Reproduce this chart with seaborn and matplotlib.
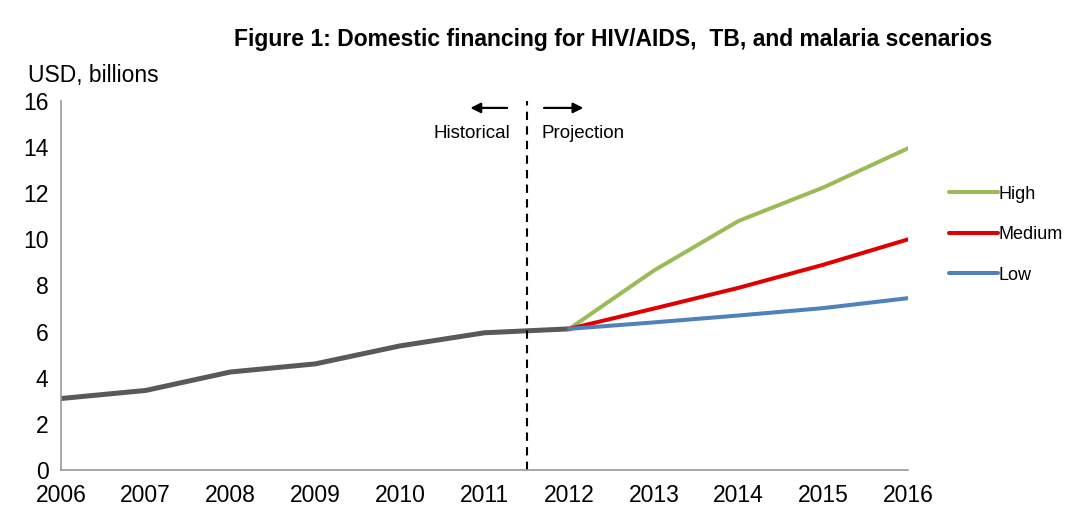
import numpy as np
import pandas as pd
import seaborn as sns
import matplotlib.pyplot as plt

# --- data ---
hist_years = [2006, 2007, 2008, 2009, 2010, 2011, 2012]
hist_values = [3.1, 3.45, 4.25, 4.6, 5.38, 5.95, 6.12]

proj_years = [2012, 2013, 2014, 2015, 2016]
high = [6.12, 8.65, 10.8, 12.25, 13.95]
medium = [6.12, 7.0, 7.9, 8.9, 10.0]
low = [6.12, 6.4, 6.7, 7.02, 7.45]

scenarios = ['High', 'Medium', 'Low']
colors = {'High': '#9BBB59', 'Medium': '#E00000', 'Low': '#4F81BD'}

df_hist = pd.DataFrame({'year': hist_years, 'value': hist_values})
df_proj = pd.concat([
    pd.DataFrame({'year': proj_years, 'value': v, 'scenario': s})
    for s, v in zip(scenarios, [high, medium, low])
])

# --- plot ---
sns.set_theme(style='white')
plt.rcParams['font.family'] = ['Liberation Sans', 'DejaVu Sans']
plt.rcParams['text.color'] = 'black'

fig = plt.figure(figsize=(10.67, 5.08), dpi=100)
ax = fig.add_axes([0.0572, 0.0748, 0.7938, 0.7264])

sns.lineplot(data=df_hist, x='year', y='value', color='#595959', lw=3.6, ax=ax,
             legend=False)
sns.lineplot(data=df_proj, x='year', y='value', hue='scenario', hue_order=scenarios,
             palette=colors, lw=2.9, ax=ax)

ax.axvline(2011.5, color='black', ls=(0, (4, 3)), lw=1.5)

ax.set_xlim(2006, 2016)
ax.set_ylim(0, 16)
ax.set_xticks(range(2006, 2017))
ax.set_yticks(range(0, 17, 2))
ax.tick_params(axis='both', labelsize=16.5, labelcolor='black', length=5, width=1,
               direction='out', color='#999999')
ax.tick_params(axis='x', direction='inout', length=8, pad=6)
ax.tick_params(axis='y', pad=4)
ax.set_xlabel('')
ax.set_ylabel('')
for side in ['top', 'right']:
    ax.spines[side].set_visible(False)
for side in ['left', 'bottom']:
    ax.spines[side].set_color('#999999')
    ax.spines[side].set_linewidth(1.2)

# annotations
ax.annotate('', xy=(2010.8, 15.7), xytext=(2011.3, 15.7),
            arrowprops=dict(arrowstyle='-|>', color='black', lw=1.6, mutation_scale=15))
ax.annotate('', xy=(2012.2, 15.7), xytext=(2011.67, 15.7),
            arrowprops=dict(arrowstyle='-|>', color='black', lw=1.6, mutation_scale=15))
ax.text(2011.3, 14.6, 'Historical', ha='right', va='center', fontsize=13.5)
ax.text(2011.67, 14.6, 'Projection', ha='left', va='center', fontsize=13.5)

fig.text(0.026, 0.852, 'USD, billions', fontsize=16.5, ha='left', va='center')
fig.text(0.575, 0.922, 'Figure 1: Domestic financing for HIV/AIDS,  TB, and malaria scenarios',
         fontsize=16.5, fontweight='bold', ha='center', va='center')

leg = ax.legend(loc='upper left', bbox_to_anchor=(1.04, 0.79), frameon=False,
                fontsize=13, handlelength=2.7, handletextpad=0.05, labelspacing=1.3,
                borderaxespad=0)

fig.savefig('out.png', dpi=100)
